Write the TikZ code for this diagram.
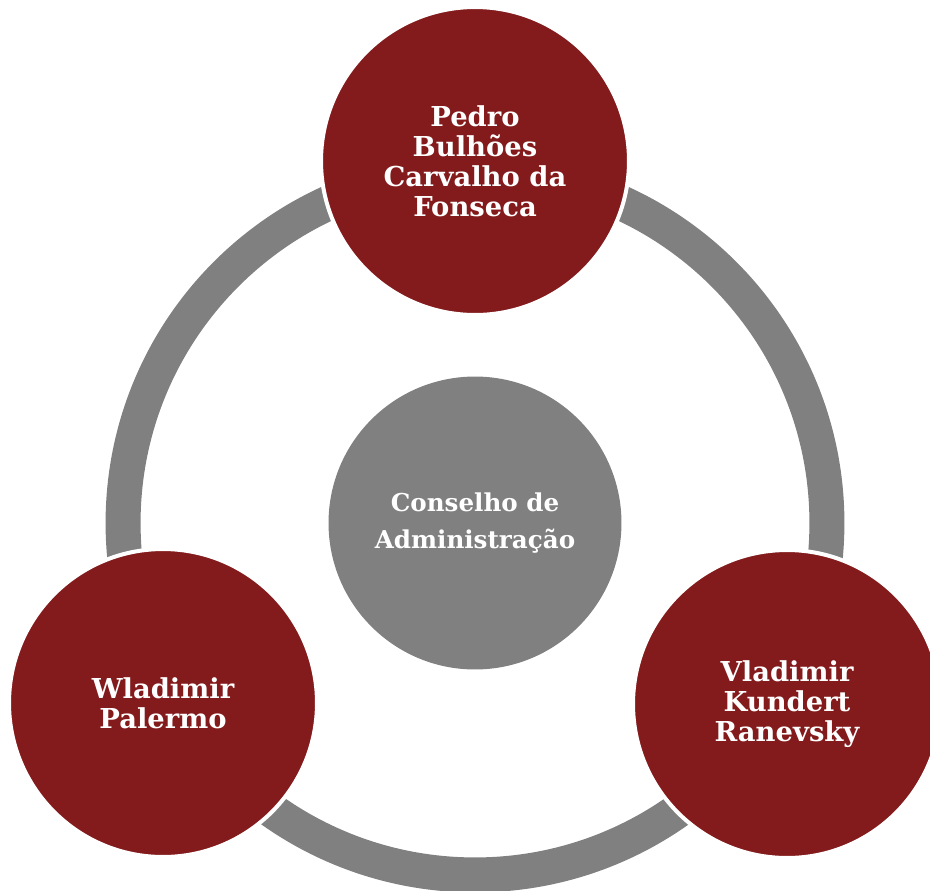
\documentclass[tikz,border=0pt]{standalone}
\usepackage{fontspec}
\setmainfont{DejaVu Serif}
\usetikzlibrary{positioning}

\definecolor{boardred}{RGB}{131,26,27}
\definecolor{boardgray}{RGB}{128,128,128}

\begin{document}
\begin{tikzpicture}[x=0.02cm,y=-0.02cm,
    member/.style={circle,fill=boardred,draw=white,line width=0.08cm,
      minimum size=6.16cm,inner sep=0pt,text=white,align=center,
      font=\bfseries\fontsize{15.6}{17}\selectfont},
    board/.style={circle,fill=boardgray,minimum size=5.86cm,inner sep=0pt,
      text=white,align=center,font=\bfseries\fontsize{14}{21}\selectfont},
    ring/.style={draw=boardgray,line width=0.7cm}]
    \useasboundingbox (0,0) rectangle (930,890);

    \node[board] (cons) at (475,523) {Conselho de\\Administração};
    \draw[ring] (cons.center) circle[radius=7.04cm];

    \node[member] (pedro) at (475,161) {Pedro\\Bulhões\\Carvalho da\\Fonseca};
    \node[member] (wlad) at (163,703) {Wladimir\\Palermo};
    \node[member] (vlad) at (787,704) {Vladimir\\Kundert\\Ranevsky};
\end{tikzpicture}
\end{document}
